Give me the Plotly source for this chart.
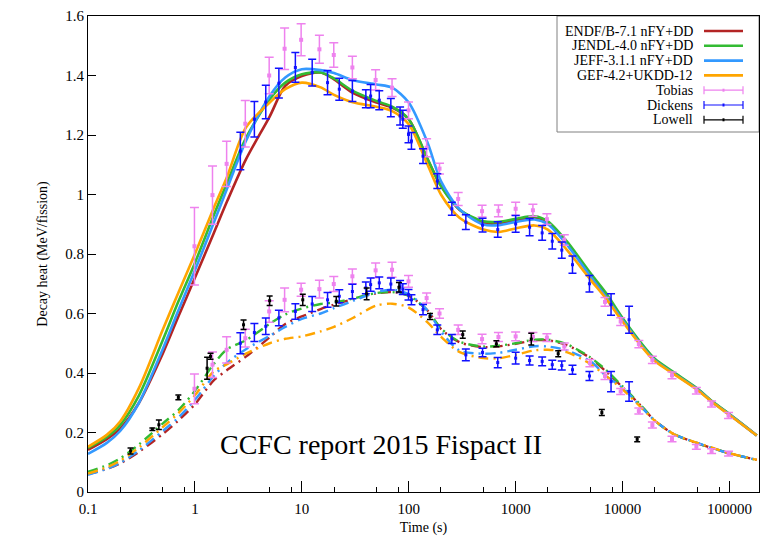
import plotly.graph_objects as go

# ---------------- data ----------------
T = [0.1, 0.15, 0.2, 0.3, 0.5, 0.7, 1, 1.5, 2, 3, 5, 7, 10, 15, 20, 30, 50, 70, 100, 150, 200,
     300, 500, 700, 1000, 1500, 2000, 3000, 5000, 7000, 1e4, 1.5e4, 2e4, 3e4, 5e4, 7e4, 1e5, 1.8e5]

endf_up = [0.142, 0.178, 0.213, 0.30, 0.465, 0.59, 0.72, 0.87, 0.977, 1.118, 1.262, 1.365, 1.398, 1.41, 1.387,
           1.342, 1.309, 1.292, 1.253, 1.118, 1.03, 0.948, 0.905, 0.903, 0.913, 0.923, 0.907, 0.838, 0.728,
           0.66, 0.58, 0.496, 0.445, 0.40, 0.346, 0.302, 0.261, 0.19]
jendl_up = [0.148, 0.185, 0.225, 0.325, 0.51, 0.64, 0.77, 0.93, 1.04, 1.19, 1.32, 1.376, 1.404, 1.41, 1.39,
            1.348, 1.314, 1.295, 1.253, 1.12, 1.028, 0.949, 0.91, 0.908, 0.918, 0.927, 0.91, 0.843, 0.736,
            0.669, 0.585, 0.50, 0.448, 0.403, 0.348, 0.303, 0.262, 0.19]
jeff_up = [0.128, 0.165, 0.205, 0.30, 0.48, 0.61, 0.745, 0.905, 1.02, 1.18, 1.331, 1.393, 1.421, 1.418, 1.408,
           1.384, 1.37, 1.359, 1.309, 1.174, 1.045, 0.95, 0.899, 0.897, 0.908, 0.916, 0.90, 0.832, 0.725,
           0.655, 0.578, 0.493, 0.443, 0.399, 0.345, 0.301, 0.26, 0.19]
gef_up = [0.152, 0.192, 0.237, 0.35, 0.545, 0.67, 0.80, 0.955, 1.06, 1.225, 1.309, 1.354, 1.376, 1.36, 1.335,
          1.31, 1.295, 1.28, 1.236, 1.10, 1.0, 0.921, 0.882, 0.874, 0.886, 0.896, 0.882, 0.815, 0.714,
          0.65, 0.573, 0.49, 0.44, 0.397, 0.343, 0.30, 0.259, 0.19]

endf_lo = [0.06, 0.078, 0.096, 0.135, 0.195, 0.24, 0.295, 0.375, 0.41, 0.455, 0.52, 0.565, 0.59, 0.615, 0.63,
           0.648, 0.668, 0.672, 0.66, 0.61, 0.548, 0.503, 0.487, 0.49, 0.498, 0.51, 0.51, 0.494, 0.45,
           0.405, 0.352, 0.288, 0.24, 0.195, 0.164, 0.147, 0.13, 0.108]
jendl_lo = [0.068, 0.09, 0.113, 0.16, 0.23, 0.275, 0.34, 0.43, 0.48, 0.51, 0.565, 0.597, 0.617, 0.632, 0.637,
            0.65, 0.669, 0.672, 0.66, 0.61, 0.55, 0.505, 0.489, 0.492, 0.50, 0.512, 0.512, 0.497, 0.452,
            0.41, 0.355, 0.29, 0.24, 0.195, 0.164, 0.147, 0.13, 0.108]
jeff_lo = [0.058, 0.078, 0.098, 0.14, 0.205, 0.25, 0.31, 0.39, 0.435, 0.48, 0.525, 0.555, 0.582, 0.60, 0.618,
           0.642, 0.672, 0.68, 0.665, 0.61, 0.54, 0.475, 0.465, 0.468, 0.478, 0.49, 0.489, 0.476, 0.44,
           0.39, 0.35, 0.285, 0.24, 0.195, 0.165, 0.147, 0.13, 0.108]
gef_lo = [0.062, 0.083, 0.105, 0.15, 0.218, 0.265, 0.325, 0.405, 0.43, 0.465, 0.50, 0.515, 0.523, 0.54, 0.555,
          0.585, 0.627, 0.633, 0.62, 0.57, 0.522, 0.47, 0.45, 0.45, 0.461, 0.476, 0.478, 0.47, 0.43,
          0.39, 0.345, 0.283, 0.24, 0.195, 0.165, 0.148, 0.13, 0.108]

tob_up_t = [0.99, 1.46, 1.98, 2.96, 4.95, 6.9, 9.85, 14.6, 19.9, 29.7, 49, 69.8, 99.5, 147, 194, 290, 485,
            690, 1000, 1450, 1960, 2850, 6850, 9600, 14200, 19000, 29000, 49000, 68000, 98000]
tob_up_y = [0.826, 0.998, 1.103, 1.238, 1.40, 1.49, 1.52, 1.488, 1.469, 1.427, 1.385, 1.359, 1.283, 1.157,
            1.087, 0.985, 0.944, 0.945, 0.952, 0.947, 0.917, 0.847, 0.639, 0.573, 0.497, 0.444, 0.392,
            0.34, 0.296, 0.257]
tob_up_e = [0.13, 0.098, 0.076, 0.078, 0.061, 0.07, 0.054, 0.047, 0.041, 0.038, 0.034, 0.03, 0.028, 0.03,
            0.018, 0.022, 0.02, 0.02, 0.022, 0.02, 0.018, 0.018, 0.015, 0.013, 0.012, 0.012, 0.011,
            0.011, 0.01, 0.01]

tob_lo_t = [0.99, 1.46, 1.98, 2.96, 4.95, 6.9, 9.85, 14.6, 19.9, 29.7, 49, 69.8, 99.5, 147, 194, 290, 485,
            690, 1000, 1450, 1960, 2850, 4950, 6850, 9600, 14200, 19000, 29000, 49000, 68000, 98000]
tob_lo_y = [0.347, 0.428, 0.478, 0.517, 0.607, 0.646, 0.68, 0.682, 0.699, 0.725, 0.745, 0.747, 0.708, 0.652,
            0.60, 0.545, 0.514, 0.521, 0.523, 0.521, 0.519, 0.489, 0.433, 0.39, 0.338, 0.272, 0.225,
            0.178, 0.152, 0.137, 0.129]
tob_lo_e = [0.05, 0.043, 0.044, 0.03, 0.036, 0.04, 0.022, 0.03, 0.025, 0.025, 0.025, 0.025, 0.02, 0.017,
            0.016, 0.016, 0.016, 0.015, 0.015, 0.015, 0.013, 0.012, 0.012, 0.012, 0.01, 0.01, 0.01,
            0.009, 0.008, 0.008, 0.008]

dick_t = [2.66, 3.6, 4.6, 6.1, 8.7, 12.5, 17.4, 22.4, 29.7, 39.7, 44, 53, 68, 83, 88, 99.5, 106, 136, 185,
          253, 342, 490, 680, 1000, 1350, 1770, 2200, 2700, 3400, 4900, 7800, 11500]
dick_up_y = [1.146, 1.253, 1.311, 1.374, 1.427, 1.41, 1.376, 1.354, 1.348, 1.322, 1.331, 1.317, 1.292, 1.264,
             1.253, 1.202, 1.18, 1.129, 1.045, 0.952, 0.907, 0.897, 0.882, 0.901, 0.89, 0.871, 0.843,
             0.813, 0.764, 0.70, 0.63, 0.579]
dick_up_e = [0.063, 0.06, 0.056, 0.05, 0.05, 0.045, 0.041, 0.037, 0.035, 0.03, 0.039, 0.032, 0.031, 0.03,
             0.03, 0.028, 0.028, 0.025, 0.025, 0.022, 0.025, 0.023, 0.026, 0.028, 0.029, 0.025, 0.026,
             0.027, 0.029, 0.028, 0.036, 0.045]
dick_lo_y = [0.50, 0.536, 0.557, 0.585, 0.607, 0.632, 0.646, 0.658, 0.674, 0.686, 0.697, 0.703, 0.699, 0.691,
             0.682, 0.663, 0.646, 0.613, 0.545, 0.514, 0.461, 0.469, 0.435, 0.45, 0.442, 0.439, 0.428,
             0.425, 0.411, 0.39, 0.371, 0.338]
dick_lo_e = [0.035, 0.03, 0.028, 0.026, 0.026, 0.025, 0.025, 0.022, 0.024, 0.02, 0.022, 0.02, 0.02, 0.02,
             0.018, 0.018, 0.017, 0.017, 0.016, 0.015, 0.02, 0.014, 0.017, 0.02, 0.015, 0.015, 0.015,
             0.015, 0.015, 0.015, 0.034, 0.033]

low_t = [0.25, 0.4, 0.46, 0.7, 1.3, 1.4, 2.85, 5.0, 10.2, 21, 40.4, 81, 158, 320, 660, 1400, 2500, 6400, 13700]
low_y = [0.138, 0.211, 0.226, 0.318, 0.416, 0.456, 0.562, 0.643, 0.646, 0.641, 0.666, 0.688, 0.59, 0.529,
         0.498, 0.514, 0.465, 0.267, 0.177]
low_e = [0.01, 0.004, 0.016, 0.008, 0.037, 0.01, 0.016, 0.016, 0.019, 0.016, 0.02, 0.016, 0.01, 0.012,
         0.01, 0.02, 0.01, 0.01, 0.008]

x_tickvals = [0.1, 1, 10, 100, 1000, 10000, 100000]
x_ticktext = ["0.1", "1", "10", "100", "1000", "10000", "100000"]
y_tickvals = [0, 0.2, 0.4, 0.6, 0.8, 1.0, 1.2, 1.4, 1.6]

models = [
    ("ENDF/B-7.1 nFY+DD", endf_up, endf_lo, "#b32424"),
    ("JENDL-4.0 nFY+DD", jendl_up, jendl_lo, "#33bb33"),
    ("JEFF-3.1.1 nFY+DD", jeff_up, jeff_lo, "#3399ff"),
    ("GEF-4.2+UKDD-12", gef_up, gef_lo, "#ffa500"),
]
TOB_C = "#ee82ee"
DICK_C = "#1010ff"
LOW_C = "#000000"
SERIF = "Liberation Serif, Times New Roman, serif"

fig = go.Figure()
for name, up, lo, c in models:
    fig.add_trace(go.Scatter(x=T, y=up, mode="lines", name=name, showlegend=False,
                             line=dict(color=c, width=2.6, shape="spline", smoothing=0.8)))
for name, up, lo, c in models:
    fig.add_trace(go.Scatter(x=T, y=lo, mode="lines", name=name, showlegend=False,
                             line=dict(color=c, width=2.4, shape="spline", smoothing=0.8,
                                       dash="10px,5px,2px,5px")))


def errtrace(x, y, e, c, name, w, msize):
    return go.Scatter(x=x, y=y, mode="markers", name=name, showlegend=False,
                      marker=dict(symbol="square", size=msize, color=c),
                      error_y=dict(type="data", array=e, visible=True, color=c, thickness=1.5, width=w))


fig.add_trace(errtrace(tob_up_t, tob_up_y, tob_up_e, TOB_C, "Tobias", 4.5, 4))
fig.add_trace(errtrace(tob_lo_t, tob_lo_y, tob_lo_e, TOB_C, "Tobias", 4.5, 4))
fig.add_trace(errtrace(dick_t, dick_up_y, dick_up_e, DICK_C, "Dickens", 4, 3))
fig.add_trace(errtrace(dick_t, dick_lo_y, dick_lo_e, DICK_C, "Dickens", 4, 3))
fig.add_trace(errtrace(low_t, low_y, low_e, LOW_C, "Lowell", 3, 3))

# ---------------- custom key (text left of sample, gnuplot style) ----------------
L, R, TOP, BOT = 88, 759, 16, 492


def px(xp):
    return (xp - L) / (R - L)


def py(yp):
    return (BOT - yp) / (BOT - TOP)


shapes = [dict(type="rect", xref="paper", yref="paper", x0=px(557), x1=px(759), y0=py(132), y1=py(16),
               line=dict(color="#808080", width=1), fillcolor="rgba(0,0,0,0)", layer="below")]
annotations = []
key_labels = [m[0] for m in models] + ["Tobias", "Dickens", "Lowell"]
key_colors = [m[3] for m in models] + [TOB_C, DICK_C, LOW_C]
row_y = [31, 45.8, 60.6, 75.4, 90.2, 105, 119.8]
for i, (lab, c) in enumerate(zip(key_labels, key_colors)):
    yy = row_y[i]
    annotations.append(dict(x=px(695), y=py(yy), xref="paper", yref="paper", text=lab, showarrow=False,
                            xanchor="right", yanchor="middle", font=dict(family=SERIF, size=14, color="black")))
    if i < 4:
        shapes.append(dict(type="line", xref="paper", yref="paper", x0=px(704), x1=px(743), y0=py(yy), y1=py(yy),
                           line=dict(color=c, width=2.6)))
    else:
        shapes.append(dict(type="line", xref="paper", yref="paper", x0=px(704), x1=px(743), y0=py(yy), y1=py(yy),
                           line=dict(color=c, width=1.2)))
        for xc in (704, 743):
            shapes.append(dict(type="line", xref="paper", yref="paper", x0=px(xc), x1=px(xc),
                               y0=py(yy - 4), y1=py(yy + 4), line=dict(color=c, width=1.2)))
        shapes.append(dict(type="line", xref="paper", yref="paper", x0=px(723.5), x1=px(723.5),
                           y0=py(yy - 1.5), y1=py(yy + 1.5), line=dict(color=c, width=2)))

annotations.append(dict(x=px(381), y=py(444), xref="paper", yref="paper", text="CCFC report 2015 Fispact II",
                        showarrow=False, xanchor="center", yanchor="middle",
                        font=dict(family=SERIF, size=28, color="black")))

fig.update_layout(
    width=764, height=537,
    margin=dict(l=L, r=764 - R, t=TOP, b=537 - BOT),
    paper_bgcolor="white", plot_bgcolor="white",
    font=dict(family=SERIF, size=15, color="black"),
    shapes=shapes, annotations=annotations, showlegend=False,
    xaxis=dict(type="log", range=[-1, 5.276], tickvals=x_tickvals, ticktext=x_ticktext,
               ticks="inside", ticklen=11, tickwidth=1, tickcolor="black", ticklabelstandoff=3,
               showline=True, linecolor="black", linewidth=1, mirror=True, showgrid=False, zeroline=False,
               minor=dict(tickvals=[m * 10 ** k for k in range(-1, 6) for m in (2, 5, 8)],
                          ticks="inside", ticklen=5, tickcolor="black", showgrid=False),
               title=dict(text="Time (s)", font=dict(family=SERIF, size=14), standoff=6),
               tickfont=dict(family=SERIF, size=15)),
    yaxis=dict(range=[0, 1.6], tickvals=y_tickvals, ticks="inside", ticklen=8, tickwidth=1, tickcolor="black",
               showline=True, linecolor="black", linewidth=1, mirror=True, showgrid=False, zeroline=False,
               title=dict(text="Decay heat (MeV/fission)", font=dict(family=SERIF, size=14), standoff=14),
               tickfont=dict(family=SERIF, size=15)),
)

fig.write_html("out.html")
